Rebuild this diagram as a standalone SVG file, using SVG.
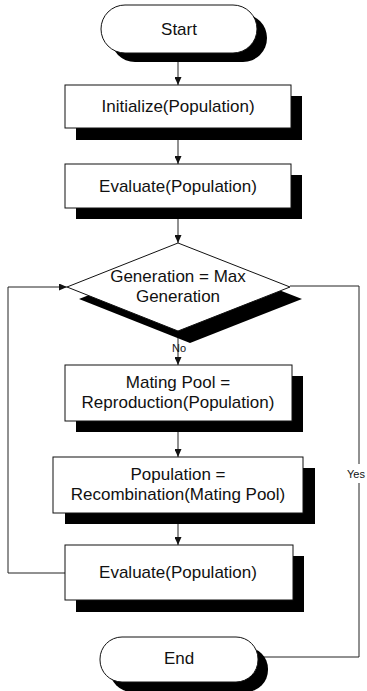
<svg xmlns="http://www.w3.org/2000/svg" width="367" height="691" viewBox="0 0 367 691">
<defs>
<style>
.box{fill:#fff;stroke:#111;stroke-width:1}
.sh{fill:#000}
.t{font-family:"Liberation Sans",Arial,sans-serif;font-size:17px;fill:#111;text-anchor:middle}
.s{font-family:"Liberation Sans",Arial,sans-serif;font-size:11px;fill:#111;text-anchor:middle}
.c{fill:none;stroke:#222;stroke-width:1}
</style>
<marker id="ah" markerUnits="userSpaceOnUse" markerWidth="8" markerHeight="7" refX="8" refY="3.5" orient="auto">
<path d="M0,0 L8,3.5 L0,7 z" fill="#111"/>
</marker>
</defs>
<rect width="367" height="691" fill="#fff"/>
<g id="connectors">
<line class="c" x1="178" y1="53" x2="178" y2="85" marker-end="url(#ah)"/>
<line class="c" x1="178" y1="128" x2="178" y2="164" marker-end="url(#ah)"/>
<line class="c" x1="178" y1="208" x2="178" y2="243" marker-end="url(#ah)"/>
<line class="c" x1="178" y1="331" x2="178" y2="365" marker-end="url(#ah)"/>
<line class="c" x1="178" y1="421" x2="178" y2="457" marker-end="url(#ah)"/>
<line class="c" x1="178" y1="513" x2="178" y2="545" marker-end="url(#ah)"/>
<polyline class="c" points="65,573 8,573 8,287 67,287" marker-end="url(#ah)"/>
<polyline class="c" points="290,286 359,286 359,464"/>
<polyline class="c" points="359,483 359,657 262,657"/>
<text class="s" x="179" y="352">No</text>
<text class="s" x="365" y="478" style="text-anchor:end">Yes</text>
</g>
<g id="start">
<rect class="sh" x="111" y="14" width="156" height="48" rx="24"/>
<rect class="box" x="101" y="5" width="156" height="48" rx="24"/>
<text class="t" x="179" y="35">Start</text>
</g>
<g id="init">
<rect class="sh" x="76" y="96" width="226" height="44"/>
<rect class="box" x="65" y="85" width="226" height="43"/>
<text class="t" x="178" y="112">Initialize(Population)</text>
</g>
<g id="eval1">
<rect class="sh" x="76" y="175" width="226" height="44"/>
<rect class="box" x="65" y="164" width="226" height="44"/>
<text class="t" x="178" y="192">Evaluate(Population)</text>
</g>
<g id="decision">
<polygon class="sh" points="190,255 302,299 190,343 79,299"/>
<polygon class="box" points="178,243 290,287 178,331 67,287"/>
<text class="t" x="178" y="282">Generation = Max</text>
<text class="t" x="178" y="302">Generation</text>
</g>
<g id="mating">
<rect class="sh" x="76" y="376" width="227" height="56"/>
<rect class="box" x="65" y="365" width="227" height="56"/>
<text class="t" x="178" y="388">Mating Pool =</text>
<text class="t" x="178" y="408">Reproduction(Population)</text>
</g>
<g id="recomb">
<rect class="sh" x="65" y="468" width="250" height="56"/>
<rect class="box" x="53" y="457" width="250" height="56"/>
<text class="t" x="178" y="480">Population =</text>
<text class="t" x="178" y="500">Recombination(Mating Pool)</text>
</g>
<g id="eval2">
<rect class="sh" x="76" y="556" width="228" height="56"/>
<rect class="box" x="65" y="545" width="228" height="55"/>
<text class="t" x="178" y="578">Evaluate(Population)</text>
</g>
<g id="end">
<rect class="sh" x="110" y="647" width="158" height="45" rx="22"/>
<rect class="box" x="100" y="637" width="158" height="45" rx="22"/>
<text class="t" x="179" y="664">End</text>
</g>
</svg>
